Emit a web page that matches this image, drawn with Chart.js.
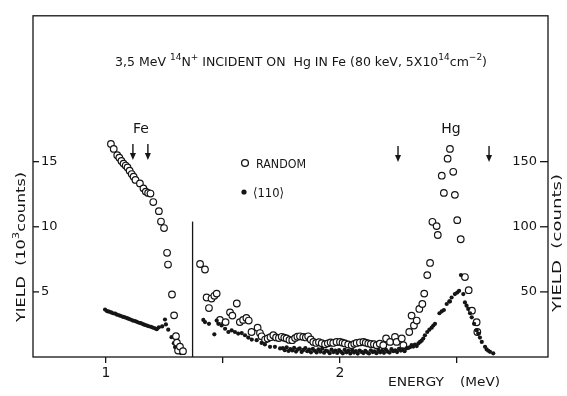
<!DOCTYPE html>
<html>
<head>
<meta charset="utf-8">
<script src="https://cdn.jsdelivr.net/npm/chart.js@4.4.1/dist/chart.umd.min.js"></script>
<style>
  body { margin: 0; background: #fff; }
  canvas { display: block; }
</style>
</head>
<body>
<canvas id="chartRbs" width="567" height="396"></canvas>
<script>
// Fe region (left axis, 10^3 counts)
const feRandomE = [1.021, 1.033, 1.048, 1.057, 1.066, 1.075, 1.084, 1.092, 1.101, 1.110, 1.118, 1.126, 1.145, 1.160, 1.170, 1.180, 1.190, 1.202, 1.226, 1.235, 1.248, 1.261, 1.265, 1.282, 1.291, 1.299, 1.303, 1.308, 1.316, 1.329];
const feRandomY = [16.36, 15.98, 15.50, 15.30, 15.05, 14.85, 14.70, 14.55, 14.30, 14.05, 13.85, 13.60, 13.33, 12.95, 12.70, 12.60, 12.55, 11.90, 11.20, 10.40, 9.90, 8.00, 7.10, 4.80, 3.20, 1.60, 1.10, 0.50, 0.80, 0.45];

const feAlignedE = [0.996, 1.005, 1.013, 1.022, 1.030, 1.039, 1.047, 1.056, 1.064, 1.073, 1.081, 1.090, 1.098, 1.107, 1.115, 1.124, 1.132, 1.141, 1.149, 1.158, 1.166, 1.175, 1.183, 1.192, 1.200, 1.209, 1.217, 1.226, 1.240, 1.252, 1.256, 1.266, 1.280, 1.290, 1.295, 1.303, 1.312, 1.320];
const feAlignedY = [3.64, 3.52, 3.48, 3.42, 3.36, 3.33, 3.25, 3.20, 3.15, 3.08, 3.05, 2.98, 2.92, 2.86, 2.80, 2.76, 2.70, 2.63, 2.60, 2.52, 2.46, 2.41, 2.36, 2.32, 2.26, 2.20, 2.14, 2.28, 2.35, 2.88, 2.50, 2.10, 1.52, 1.06, 0.76, 0.53, 0.38, 0.30];

// Hg region (right axis, counts)
const hgRandomE = [1.402, 1.423, 1.430, 1.440, 1.451, 1.463, 1.473, 1.487, 1.511, 1.530, 1.540, 1.559, 1.572, 1.586, 1.600, 1.610, 1.622, 1.648, 1.658, 1.665, 1.680, 1.691, 1.703, 1.715, 1.727, 1.739, 1.751, 1.762, 1.772, 1.784, 1.796, 1.808, 1.818, 1.829, 1.843, 1.854, 1.864, 1.875, 1.886, 1.898, 1.910, 1.922, 1.936, 1.948, 1.960, 1.971, 1.985, 2.000, 2.011, 2.021, 2.035, 2.050, 2.061, 2.071, 2.085, 2.100, 2.110, 2.121, 2.132, 2.145, 2.157, 2.170, 2.185, 2.197, 2.214, 2.235, 2.242, 2.264, 2.271, 2.296, 2.306, 2.316, 2.328, 2.339, 2.352, 2.360, 2.373, 2.385, 2.395, 2.413, 2.418, 2.435, 2.444, 2.460, 2.470, 2.484, 2.491, 2.501, 2.516, 2.534, 2.550, 2.564, 2.584, 2.587];
const hgRandomY = [71.4, 67.2, 45.7, 37.6, 44.9, 47.0, 48.7, 28.5, 26.8, 34.3, 31.8, 41.1, 26.8, 28.5, 30.0, 28.0, 19.2, 22.5, 18.4, 15.9, 13.4, 14.2, 15.2, 16.7, 15.0, 14.6, 15.5, 14.8, 14.2, 13.1, 12.9, 14.5, 15.6, 15.9, 15.4, 15.0, 15.9, 13.5, 11.6, 10.8, 11.4, 10.6, 9.8, 10.5, 11.2, 10.8, 11.5, 11.6, 11.0, 10.4, 9.6, 9.1, 10.1, 10.8, 11.2, 11.6, 11.0, 10.4, 10.0, 9.8, 9.1, 10.2, 9.1, 14.2, 11.6, 15.4, 11.6, 14.2, 9.1, 19.2, 31.8, 24.2, 28.0, 36.9, 40.7, 48.7, 62.9, 72.2, 103.8, 100.5, 93.7, 139.2, 126.0, 152.3, 159.8, 142.2, 124.5, 105.1, 90.4, 61.4, 51.3, 35.6, 26.7, 19.2];

const hgAlignedE = [1.416, 1.423, 1.440, 1.463, 1.473, 1.480, 1.494, 1.509, 1.523, 1.537, 1.551, 1.565, 1.580, 1.594, 1.608, 1.623, 1.644, 1.665, 1.679, 1.701, 1.722, 1.744,
    1.756, 1.764, 1.772, 1.780, 1.788, 1.796, 1.804, 1.812, 1.820, 1.828, 1.836, 1.844, 1.852, 1.860, 1.868, 1.876, 1.884, 1.892, 1.900, 1.908, 1.916, 1.924, 1.932, 1.940, 1.948, 1.956, 1.964, 1.972, 1.980, 1.988, 1.996, 2.004, 2.012, 2.020, 2.028, 2.036, 2.044, 2.052, 2.060, 2.068, 2.076, 2.084, 2.092, 2.100, 2.108, 2.116, 2.124, 2.132, 2.140, 2.148, 2.156, 2.164, 2.172, 2.180, 2.188, 2.196, 2.204, 2.212, 2.220, 2.228, 2.236, 2.244, 2.252, 2.260, 2.268, 2.276, 2.284,
    2.292, 2.299, 2.306, 2.313, 2.320, 2.328, 2.335, 2.342, 2.349, 2.356, 2.363, 2.373, 2.382, 2.392, 2.399, 2.406, 2.425, 2.435, 2.444, 2.456, 2.467, 2.470, 2.477, 2.491, 2.501, 2.509, 2.517, 2.527, 2.534, 2.541, 2.548, 2.556, 2.563, 2.573, 2.584, 2.591, 2.598, 2.606, 2.620, 2.627, 2.634, 2.641, 2.655];
const hgAlignedY = [28.5, 26.8, 25.5, 17.4, 28.0, 25.5, 24.2, 21.7, 19.2, 20.5, 19.2, 18.0, 18.4, 16.7, 14.9, 13.4, 12.9, 10.8, 9.6, 7.8, 7.8, 6.6,
    6.8, 5.2, 7.4, 4.6, 6.1, 5.0, 7.0, 4.2, 5.8, 6.6, 3.9, 5.4, 6.9, 4.4, 5.7, 3.6, 6.2, 4.8, 3.5, 5.9, 4.1, 6.4, 3.3, 5.0, 4.4, 2.9, 5.6, 3.8, 4.9, 3.1, 5.3, 4.0, 2.8, 5.5, 3.6, 4.7, 2.7, 5.1, 3.4, 4.6, 2.6, 5.0, 3.9, 3.0, 4.8, 3.5, 2.7, 5.2, 3.8, 4.4, 2.9, 5.4, 3.6, 4.8, 3.2, 5.7, 4.1, 3.4, 6.0, 4.5, 5.2, 3.8, 6.3, 4.9, 5.8, 4.4, 6.6,
    7.0, 7.5, 9.1, 8.0, 9.6, 8.4, 10.4, 11.6, 12.5, 14.2, 16.7, 19.2, 21.0, 22.5, 24.2, 25.5, 33.6, 35.1, 36.1, 40.7, 42.7, 42.7, 45.7, 48.3, 49.5, 50.8, 62.9, 48.3, 41.9, 39.4, 36.9, 33.6, 30.5, 25.5, 20.5, 18.0, 14.9, 11.6, 7.8, 5.8, 4.8, 4.0, 2.8];

// axes
const xTicks = [1, 1.5, 2, 2.5];
const xTickLabels = { 1: '1', 2: '2' };
const leftTicks = [5, 10, 15];
const rightTicks = [50, 100, 150];
const dividerEnergy = 1.37;
const dividerTop = 10.4;
const feArrows = [1.115, 1.179];
const hgArrows = [2.248, 2.637];

const FONT = '"DejaVu Sans", "Liberation Sans", sans-serif';
const INK = '#151515';

function toPoints(xs, ys) {
    return xs.map((e, i) => ({ x: e, y: ys[i] }));
}

// draw a run of normal/superscript pieces, squeezed to a given width
function drawRuns(ctx, runs, x, y, size, width) {
    let total = 0;
    runs.forEach(r => {
        ctx.font = (r.sup ? size * 0.72 : size) + 'px ' + FONT;
        total += ctx.measureText(r.t).width;
    });
    const k = width ? width / total : 1;
    ctx.save();
    ctx.translate(x, y);
    ctx.scale(k, 1);
    let cx = 0;
    runs.forEach(r => {
        ctx.font = (r.sup ? size * 0.72 : size) + 'px ' + FONT;
        ctx.fillText(r.t, cx, r.sup ? -size * 0.5 : 0);
        cx += ctx.measureText(r.t).width;
    });
    ctx.restore();
}

function line(ctx, x1, y1, x2, y2) {
    ctx.beginPath();
    ctx.moveTo(x1, y1);
    ctx.lineTo(x2, y2);
    ctx.stroke();
}

function arrow(ctx, x, y1, y2) {
    line(ctx, x, y1, x, y2 - 5);
    ctx.beginPath();
    ctx.moveTo(x - 3, y2 - 7);
    ctx.lineTo(x + 3, y2 - 7);
    ctx.lineTo(x, y2);
    ctx.closePath();
    ctx.fill();
}

const annotations = {
    id: 'annotations',
    afterDraw(chart) {
        const ctx = chart.ctx;
        const a = chart.chartArea;
        const sx = chart.scales.x, yl = chart.scales.y, yr = chart.scales.y2;
        ctx.save();
        ctx.strokeStyle = INK;
        ctx.fillStyle = INK;
        ctx.lineWidth = 1.3;
        ctx.strokeRect(a.left, a.top, a.right - a.left, a.bottom - a.top);

        leftTicks.forEach(v => {
            const p = yl.getPixelForValue(v);
            line(ctx, a.left, p, a.left + 6, p);
        });
        ctx.font = '13px ' + FONT;
        ctx.textAlign = 'right';
        ctx.textBaseline = 'middle';
        rightTicks.forEach(v => {
            const p = yr.getPixelForValue(v);
            line(ctx, a.right - 8, p, a.right, p);
            ctx.fillText(String(v), a.right - 11, p);
        });

        const xd = sx.getPixelForValue(dividerEnergy);
        line(ctx, xd, yl.getPixelForValue(dividerTop), xd, a.bottom);

        ctx.lineWidth = 1.4;
        feArrows.forEach(e => arrow(ctx, sx.getPixelForValue(e), 144, 160));
        hgArrows.forEach(e => arrow(ctx, sx.getPixelForValue(e), 146, 162));

        ctx.textBaseline = 'alphabetic';
        ctx.textAlign = 'left';
        drawRuns(ctx, [
            { t: '3,5 MeV ' }, { t: '14', sup: true }, { t: 'N' }, { t: '+', sup: true },
            { t: ' INCIDENT ON  Hg IN Fe (80 keV, 5X10' }, { t: '14', sup: true },
            { t: 'cm' }, { t: '\u22122', sup: true }, { t: ')' }
        ], 115, 66, 13, 372);

        ctx.font = '14px ' + FONT;
        ctx.textAlign = 'center';
        ctx.fillText('Fe', 141, 133);
        ctx.fillText('Hg', 451, 133);

        // legend
        ctx.lineWidth = 1.3;
        ctx.beginPath();
        ctx.arc(245, 163, 3.4, 0, Math.PI * 2);
        ctx.stroke();
        ctx.beginPath();
        ctx.arc(244, 192, 2.6, 0, Math.PI * 2);
        ctx.fill();
        ctx.textAlign = 'left';
        drawRuns(ctx, [{ t: 'RANDOM' }], 256, 168, 13, 50);
        drawRuns(ctx, [{ t: '\u27E8110\u27E9' }], 253, 197, 13, 31);

        drawRuns(ctx, [{ t: 'ENERGY' }], 388, 386, 13, 56);
        drawRuns(ctx, [{ t: '(MeV)' }], 460, 386, 13, 40);

        // axis titles
        ctx.save();
        ctx.translate(25, 322);
        ctx.rotate(-Math.PI / 2);
        drawRuns(ctx, [{ t: 'YIELD  (10' }, { t: '3', sup: true }, { t: 'counts)' }], 0, 0, 13, 150);
        ctx.restore();

        ctx.save();
        ctx.translate(561, 312);
        ctx.rotate(-Math.PI / 2);
        drawRuns(ctx, [{ t: 'YIELD  (counts)' }], 0, 0, 13, 138);
        ctx.restore();

        ctx.restore();
    }
};

const openStyle = { pointRadius: 3.3, pointBorderWidth: 1.2, pointBackgroundColor: '#fff', pointBorderColor: INK, showLine: false };
const dotStyle = { pointRadius: 2.1, pointBorderWidth: 0, pointBackgroundColor: INK, pointBorderColor: INK, showLine: false };

new Chart(document.getElementById('chartRbs').getContext('2d'), {
    type: 'scatter',
    data: {
        datasets: [
            Object.assign({ label: 'random Fe', data: toPoints(feRandomE, feRandomY), yAxisID: 'y' }, openStyle),
            Object.assign({ label: '<110> Fe', data: toPoints(feAlignedE, feAlignedY), yAxisID: 'y' }, dotStyle),
            Object.assign({ label: '<110> Hg', data: toPoints(hgAlignedE, hgAlignedY), yAxisID: 'y2' }, dotStyle),
            Object.assign({ label: 'random Hg', data: toPoints(hgRandomE, hgRandomY), yAxisID: 'y2' }, openStyle)
        ]
    },
    options: {
        responsive: false,
        devicePixelRatio: 1,
        animation: false,
        layout: { padding: { top: 11, left: 0, right: 0, bottom: 0 } },
        plugins: { legend: { display: false }, tooltip: { enabled: false } },
        scales: {
            x: {
                type: 'linear',
                min: 0.688,
                max: 2.889,
                afterBuildTicks: s => { s.ticks = xTicks.map(v => ({ value: v })); },
                afterFit: s => { s.height = 39; },
                grid: { drawOnChartArea: false, tickLength: 6, color: INK, lineWidth: 1.3 },
                border: { display: false },
                ticks: {
                    color: INK,
                    padding: 2,
                    font: { family: FONT, size: 14 },
                    callback: v => xTickLabels[v] || ''
                }
            },
            y: {
                position: 'left',
                min: 0,
                max: 26.2,
                afterBuildTicks: s => { s.ticks = leftTicks.map(v => ({ value: v })); },
                afterFit: s => { s.width = 33; },
                grid: { drawOnChartArea: false, drawTicks: false },
                border: { display: false },
                ticks: { mirror: true, padding: 8, color: INK, font: { family: FONT, size: 13 } }
            },
            y2: {
                position: 'right',
                min: 0,
                max: 262,
                afterBuildTicks: s => { s.ticks = rightTicks.map(v => ({ value: v })); },
                afterFit: s => { s.width = 19; },
                grid: { drawOnChartArea: false, drawTicks: false },
                border: { display: false },
                ticks: { display: false }
            }
        }
    },
    plugins: [annotations]
});
</script>
</body>
</html>
